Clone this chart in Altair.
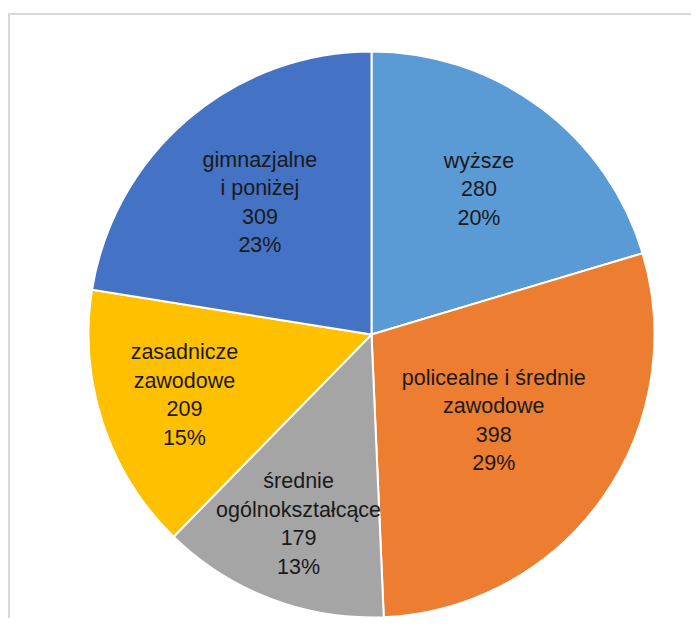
import altair as alt
import pandas as pd

# Data
categories = ["wyższe", "policealne i średnie zawodowe", "średnie ogólnokształcące",
              "zasadnicze zawodowe", "gimnazjalne i poniżej"]
label_lines = ["wyższe", "policealne i średnie\nzawodowe", "średnie\nogólnokształcące",
               "zasadnicze\nzawodowe", "gimnazjalne\ni poniżej"]
values = [280, 398, 179, 209, 309]
percents = ["20%", "29%", "13%", "15%", "23%"]

# Styling / layout (kept apart from the data)
colors = ["#5B9BD5", "#ED7D31", "#A5A5A5", "#FFC000", "#4472C4"]
label_radius = [180, 150, 204, 197, 172]
CX, CY, R = 363.5, 326.5, 283
LINE_H = 28.5

labels = [f"{l}\n{v}\n{p}" for l, v, p in zip(label_lines, values, percents)]
df = pd.DataFrame({
    "idx": list(range(len(categories))),
    "category": categories,
    "value": values,
    "label": labels,
    "nlines": [s.count("\n") + 1 for s in labels],
    "lr": label_radius,
})

pie = alt.Chart(df).mark_arc(radius=R, stroke="white", strokeWidth=2).encode(
    theta=alt.Theta("value:Q", stack=True),
    order=alt.Order("idx:Q", sort="ascending"),
    x=alt.value(CX), y=alt.value(CY),
    color=alt.Color("category:N", scale=alt.Scale(domain=categories, range=colors), legend=None),
)

text = alt.Chart(df).transform_joinaggregate(
    total="sum(value)"
).transform_window(
    cum="sum(value)", sort=[alt.SortField("idx", order="ascending")],
    frame=[None, 0]
).transform_calculate(
    ang="2*PI*(datum.cum - datum.value/2)/datum.total"
).transform_calculate(
    px=f"{CX} + datum.lr*sin(datum.ang)",
    py=f"{CY} - datum.lr*cos(datum.ang) - (datum.nlines - 1)/2*{LINE_H}",
).mark_text(
    font="Liberation Sans", fontSize=21.5, lineHeight=LINE_H, lineBreak="\n",
    color="#1a1a1a", align="center", baseline="middle",
).encode(
    x=alt.X("px:Q", scale=None),
    y=alt.Y("py:Q", scale=None),
    text="label:N",
)

frame = alt.Chart(df).mark_rect(fill=None, stroke="#d9d9d9", strokeWidth=2).encode(
    x=alt.value(1), x2=alt.value(760), y=alt.value(6), y2=alt.value(700)
)

chart = alt.layer(frame, pie, text).properties(
    width=683, height=610,
    autosize=alt.AutoSizeParams(type="none"),
    padding=0,
).configure_view(stroke=None)

chart.save("out.html", embed_options={"renderer": "svg", "actions": False})
